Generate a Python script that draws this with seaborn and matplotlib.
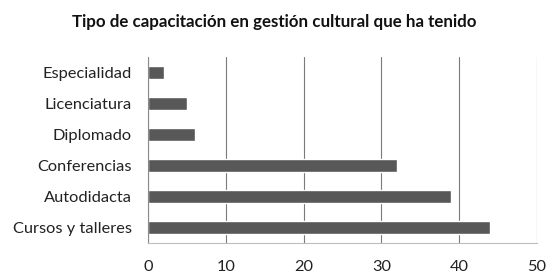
import pandas as pd
import numpy as np
import matplotlib.pyplot as plt
import seaborn as sns

# Data
categories = ["Especialidad", "Licenciatura", "Diplomado",
              "Conferencias", "Autodidacta", "Cursos y talleres"]
counts = [2, 5, 6, 32, 39, 44]
x_ticks = [0, 10, 20, 30, 40, 50]

df = pd.DataFrame({"Tipo": categories, "Cantidad": counts})

sns.set_style("white")
plt.rcParams["font.family"] = ["Lato", "DejaVu Sans"]

fig = plt.figure(figsize=(5.48, 2.76), dpi=100)
ax = fig.add_axes([0.270, 0.120, 0.710, 0.673])

sns.barplot(data=df, x="Cantidad", y="Tipo", orient="h", color="#585858",
            saturation=1, width=0.4, ax=ax)

ax.set_xlim(0, 50)
ax.set_xticks(x_ticks)
ax.set_xlabel("")
ax.set_ylabel("")
ax.set_ylim(len(categories) - 0.5, -0.5)

# vertical gridlines
ax.grid(axis="x", color="#7a7a7a", linewidth=0.8)
ax.set_axisbelow(True)

for s in ["top", "right"]:
    ax.spines[s].set_visible(False)
ax.spines["left"].set_color("#8a8a8a")
ax.spines["bottom"].set_color("#bdbdbd")
ax.spines["left"].set_linewidth(0.8)
ax.spines["bottom"].set_linewidth(0.8)

# ticks on y axis between categories
ax.set_yticks(np.arange(len(categories)))
ax.set_yticklabels(categories)
ax.set_yticks(np.arange(len(categories) + 1) - 0.5, minor=True)
ax.tick_params(axis="y", which="major", length=0, pad=11.5, labelsize=11.8, colors="#222222")
ax.tick_params(axis="y", which="minor", length=4, width=0.8, color="#8a8a8a", direction="out")
ax.tick_params(axis="x", length=0, pad=12, labelsize=11.8, colors="#222222")

fig.suptitle("Tipo de capacitación en gestión cultural que ha tenido",
             fontsize=12.2, fontweight="bold", y=0.948, x=0.5, color="#111111")

fig.savefig("out.png", dpi=100, facecolor="white")
